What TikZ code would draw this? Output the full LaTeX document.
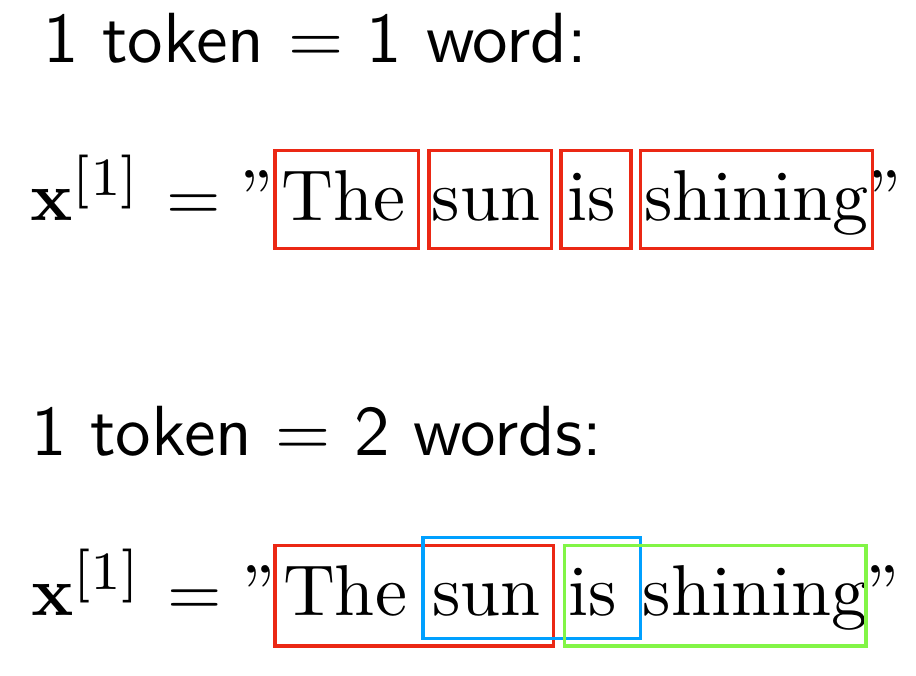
\documentclass[tikz,border=0pt]{standalone}
\usepackage{graphicx}
\definecolor{tokred}{RGB}{235,40,20}
\definecolor{tokblue}{RGB}{0,160,255}
\definecolor{tokgreen}{RGB}{130,245,70}
\newcommand{\supidx}{\scalebox{1.1}{$\scriptstyle[1]$}}
\begin{document}
\begin{tikzpicture}[x=1pt,y=-1pt,
  txt/.style={inner sep=0pt, anchor=base},
  tokbox/.style={line width=3.3pt}]
\useasboundingbox (0,0) rectangle (916,676);
% headings
\node[txt] (h1) at (315,62.3) {\scalebox{7.1}{\sffamily 1 token $=$ 1 word:}};
\node[txt] (h2) at (316.5,455.7) {\scalebox{7.1}{\sffamily 1 token $=$ 2 words:}};
% line 2
\node[txt] (xa) at (86.2,220.7) {\scalebox{7.0}{$\mathbf{x}^{\supidx}$}};
\node[txt] (ea) at (193.3,220.7) {\scalebox{7.0}{$=$}};
\node[txt] (qa1) at (256.7,220.7) {\scalebox{7.2}{''}};
\node[txt] (wa1) at (343.8,220.7) {\scalebox{7.2}{The}};
\node[txt] (wa2) at (486.2,220.7) {\scalebox{7.2}{sun}};
\node[txt] (wa3) at (591.3,220.7) {\scalebox{7.2}{is}};
\node[txt] (wa4) at (756.3,220.7) {\scalebox{7.2}{shining}};
\node[txt] (qa2) at (884.8,220.7) {\scalebox{7.2}{''}};
\draw[tokbox,tokred] (275,150.7) rectangle (418.3,248.3);
\draw[tokbox,tokred] (429,150.7) rectangle (551.7,248.3);
\draw[tokbox,tokred] (561,150.7) rectangle (631,248.3);
\draw[tokbox,tokred] (640.3,150.7) rectangle (872.3,248.3);
% line 4
\node[txt] (xb) at (86.8,615) {\scalebox{7.0}{$\mathbf{x}^{\supidx}$}};
\node[txt] (eb) at (194.7,615) {\scalebox{7.0}{$=$}};
\node[txt] (qb1) at (258.3,615) {\scalebox{7.2}{''}};
\node[txt] (wb1) at (345,615) {\scalebox{7.2}{The}};
\node[txt] (wb2) at (486.7,615) {\scalebox{7.2}{sun}};
\node[txt] (wb3) at (592.5,615) {\scalebox{7.2}{is}};
\node[txt] (wb4) at (755,615) {\scalebox{7.2}{shining}};
\node[txt] (qb2) at (882.3,615) {\scalebox{7.2}{''}};
\draw[tokbox,tokred] (275,545.7) rectangle (553.3,646);
\draw[tokbox,tokblue] (423,537.7) rectangle (640.3,638.3);
\draw[tokbox,tokgreen] (564.3,545.7) rectangle (866,646);
\end{tikzpicture}
\end{document}
